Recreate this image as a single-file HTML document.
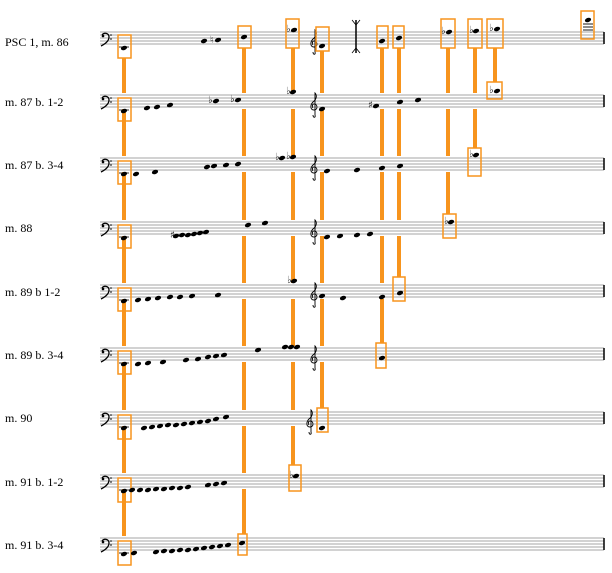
<!DOCTYPE html>
<html><head><meta charset="utf-8"><style>
html,body{margin:0;padding:0;background:#fff;}
svg{display:block;}
text{font-family:"Liberation Serif",serif;font-size:12px;fill:#000;}
.st line{stroke:#888;stroke-width:0.8}
.ol{stroke:#f7941d;stroke-width:4}
.bx{fill:none;stroke:#f7941d;stroke-width:1.5}
.n{fill:#000}
.acc{font-size:10px;font-family:"DejaVu Sans",sans-serif;fill:#222}
</style></head><body>
<svg width="612" height="573" viewBox="0 0 612 573" xmlns="http://www.w3.org/2000/svg">
<defs>
<g id="staff" class="st">
<rect x="98" y="-2" width="508" height="16" fill="#fff"/>
<line x1="100" y1="0" x2="604" y2="0"/><line x1="100" y1="3" x2="604" y2="3"/><line x1="100" y1="6" x2="604" y2="6"/><line x1="100" y1="9" x2="604" y2="9"/><line x1="100" y1="12" x2="604" y2="12"/>
<line x1="604" y1="0" x2="604" y2="12" style="stroke:#000;stroke-width:1.5"/>
<path d="M102 3 C104 0,109 1,109 5 C109 9,105 12,101 14" fill="none" stroke="#000" stroke-width="1.3"/>
<circle cx="103" cy="4" r="1.3" fill="#000"/><circle cx="111" cy="3" r="0.8" fill="#000"/><circle cx="111" cy="7" r="0.8" fill="#000"/>
</g>
<g id="treb"><path d="M3 17 C3 20,6 20,5 17 L5 -5 C7 -3,7 1,3 4 C0 7,0 12,4 12 C8 12,8 6,4 6 C2 6,2 9,3 10" fill="none" stroke="#000" stroke-width="0.9"/></g>
<ellipse id="nt" cx="0" cy="0" rx="3.2" ry="2.1" transform="rotate(-20)" class="n"/>
</defs>

<text x="5" y="46">PSC 1,  m. 86</text>
<text x="5" y="106">m. 87 b. 1-2</text>
<text x="5" y="169">m. 87 b. 3-4</text>
<text x="5" y="232">m. 88</text>
<text x="5" y="296">m. 89 b 1-2</text>
<text x="5" y="359">m. 89 b. 3-4</text>
<text x="5" y="422">m. 90</text>
<text x="5" y="486">m. 91 b. 1-2</text>
<text x="5" y="549">m. 91 b. 3-4</text>

<line class="ol" x1="124" y1="58" x2="124" y2="542"/>
<line class="ol" x1="244" y1="48" x2="244" y2="534"/>
<line class="ol" x1="293" y1="48" x2="293" y2="465"/>
<line class="ol" x1="322" y1="51" x2="322" y2="408"/>
<line class="ol" x1="382" y1="48" x2="382" y2="343"/>
<line class="ol" x1="399" y1="48" x2="399" y2="277"/>
<line class="ol" x1="448" y1="48" x2="448" y2="214"/>
<line class="ol" x1="475" y1="48" x2="475" y2="148"/>
<line class="ol" x1="495" y1="48" x2="495" y2="82"/>

<use href="#staff" y="32"/><use href="#staff" y="95"/><use href="#staff" y="158"/><use href="#staff" y="222"/><use href="#staff" y="285"/><use href="#staff" y="348"/><use href="#staff" y="412"/><use href="#staff" y="475"/><use href="#staff" y="538"/>

<use href="#treb" x="310" y="35"/><use href="#treb" x="310" y="98"/><use href="#treb" x="310" y="161"/><use href="#treb" x="310" y="225"/><use href="#treb" x="310" y="288"/><use href="#treb" x="310" y="351"/><use href="#treb" x="306" y="415"/>

<line x1="356" y1="20" x2="356" y2="53" stroke="#000" stroke-width="1.5"/>
<path d="M352 20 L356 25 L360 20 M352 53 L356 48 L360 53" fill="none" stroke="#000" stroke-width="0.8"/>

<g>
<rect class="bx" x="118" y="35" width="13" height="23"/>
<rect class="bx" x="118" y="98" width="13" height="23"/>
<rect class="bx" x="118" y="161" width="13" height="23"/>
<rect class="bx" x="118" y="225" width="13" height="23"/>
<rect class="bx" x="118" y="288" width="13" height="23"/>
<rect class="bx" x="118" y="351" width="13" height="23"/>
<rect class="bx" x="118" y="415" width="13" height="24"/>
<rect class="bx" x="118" y="478" width="13" height="24"/>
<rect class="bx" x="118" y="541" width="13" height="24"/>
</g>
<g>
<use href="#nt" x="124" y="48"/><use href="#nt" x="124" y="111"/><use href="#nt" x="124" y="174"/><use href="#nt" x="124" y="238"/><use href="#nt" x="124" y="301"/><use href="#nt" x="124" y="364"/><use href="#nt" x="124" y="428"/><use href="#nt" x="124" y="491"/><use href="#nt" x="124" y="554"/>
<g stroke="#000" stroke-width="0.8"><line x1="119" y1="47" x2="129" y2="47"/><line x1="119" y1="110" x2="129" y2="110"/><line x1="119" y1="173" x2="129" y2="173"/><line x1="119" y1="237" x2="129" y2="237"/><line x1="119" y1="300" x2="129" y2="300"/><line x1="119" y1="363" x2="129" y2="363"/><line x1="119" y1="427" x2="129" y2="427"/><line x1="119" y1="490" x2="129" y2="490"/><line x1="119" y1="553" x2="129" y2="553"/></g>
</g>

<rect class="bx" x="238" y="26" width="13" height="22"/>
<rect class="bx" x="286" y="19" width="13" height="29"/>
<rect class="bx" x="316" y="27" width="13" height="24"/>
<rect class="bx" x="377" y="26" width="11" height="22"/>
<rect class="bx" x="393" y="26" width="11" height="22"/>
<rect class="bx" x="441" y="19" width="14" height="29"/>
<rect class="bx" x="468" y="19" width="14" height="29"/>
<rect class="bx" x="487" y="19" width="16" height="29"/>
<rect class="bx" x="581" y="11" width="13" height="28"/>
<rect class="bx" x="487" y="82" width="15" height="17"/>
<rect class="bx" x="468" y="148" width="13" height="28"/>
<rect class="bx" x="443" y="214" width="13" height="24"/>
<rect class="bx" x="393" y="277" width="12" height="24"/>
<rect class="bx" x="376" y="343" width="10" height="25"/>
<rect class="bx" x="317" y="408" width="11" height="24"/>
<rect class="bx" x="289" y="465" width="12" height="26"/>
<rect class="bx" x="238" y="534" width="9" height="21"/>

<use href="#nt" x="204" y="41"/><use href="#nt" x="218" y="40"/><text class="acc" x="210" y="43">♮</text><use href="#nt" x="244" y="37"/>
<use href="#nt" x="294" y="30"/><text class="acc" x="286" y="32">♭</text><use href="#nt" x="322" y="46"/>
<use href="#nt" x="382" y="41"/><use href="#nt" x="399" y="38"/>
<use href="#nt" x="449" y="32"/><text class="acc" x="441" y="34">♭</text>
<use href="#nt" x="476" y="31"/><text class="acc" x="469" y="33">♭</text>
<use href="#nt" x="497" y="29"/><text class="acc" x="489" y="31">♭</text>
<use href="#nt" x="588" y="20"/><g stroke="#000" stroke-width="0.9"><line x1="583" y1="24" x2="593" y2="24"/><line x1="583" y1="27" x2="593" y2="27"/><line x1="583" y1="30" x2="593" y2="30"/></g>

<use href="#nt" x="147" y="108"/><use href="#nt" x="157" y="107"/><use href="#nt" x="170" y="105"/>
<use href="#nt" x="216" y="101"/><text class="acc" x="208" y="103">♭</text><use href="#nt" x="238" y="100"/><text class="acc" x="230" y="102">♭</text>
<use href="#nt" x="293" y="92"/><text class="acc" x="286" y="94">♭</text><use href="#nt" x="322" y="109"/>
<use href="#nt" x="376" y="106"/><text class="acc" x="368" y="108">♯</text><use href="#nt" x="400" y="102"/><use href="#nt" x="418" y="100"/>
<use href="#nt" x="497" y="91"/><text class="acc" x="489" y="93">♭</text>

<use href="#nt" x="136" y="174"/><use href="#nt" x="155" y="172"/>
<use href="#nt" x="207" y="167"/><use href="#nt" x="214" y="166"/><use href="#nt" x="226" y="165"/><use href="#nt" x="238" y="164"/>
<use href="#nt" x="282" y="158"/><text class="acc" x="275" y="160">♭</text><use href="#nt" x="293" y="157"/><text class="acc" x="286" y="159">♭</text>
<use href="#nt" x="327" y="171"/><use href="#nt" x="357" y="170"/><use href="#nt" x="382" y="168"/><use href="#nt" x="400" y="166"/>
<use href="#nt" x="476" y="155"/><text class="acc" x="469" y="157">♭</text>

<use href="#nt" x="176" y="236"/><use href="#nt" x="182" y="235"/><use href="#nt" x="188" y="235"/><use href="#nt" x="194" y="234"/><use href="#nt" x="200" y="233"/><use href="#nt" x="206" y="232"/><text class="acc" x="170" y="238">♯</text>
<use href="#nt" x="248" y="225"/><use href="#nt" x="265" y="223"/>
<use href="#nt" x="327" y="237"/><use href="#nt" x="340" y="236"/><use href="#nt" x="357" y="235"/><use href="#nt" x="370" y="234"/>
<use href="#nt" x="451" y="222"/><text class="acc" x="444" y="224">♭</text>

<use href="#nt" x="138" y="300"/><use href="#nt" x="148" y="299"/><use href="#nt" x="158" y="298"/><use href="#nt" x="170" y="297"/><use href="#nt" x="180" y="297"/><use href="#nt" x="192" y="296"/><use href="#nt" x="218" y="295"/>
<use href="#nt" x="294" y="281"/><text class="acc" x="287" y="283">♭</text>
<use href="#nt" x="322" y="296"/><use href="#nt" x="343" y="298"/><use href="#nt" x="382" y="297"/><use href="#nt" x="400" y="293"/>

<use href="#nt" x="138" y="364"/><use href="#nt" x="148" y="363"/><use href="#nt" x="163" y="362"/><use href="#nt" x="186" y="360"/><use href="#nt" x="198" y="359"/><use href="#nt" x="208" y="357"/><use href="#nt" x="216" y="356"/><use href="#nt" x="224" y="355"/>
<use href="#nt" x="258" y="350"/><use href="#nt" x="285" y="347"/><use href="#nt" x="291" y="347"/><use href="#nt" x="297" y="347"/>
<use href="#nt" x="382" y="358"/>

<use href="#nt" x="144" y="428"/><use href="#nt" x="152" y="427"/><use href="#nt" x="160" y="426"/><use href="#nt" x="168" y="425"/><use href="#nt" x="176" y="425"/><use href="#nt" x="184" y="424"/><use href="#nt" x="192" y="423"/><use href="#nt" x="200" y="422"/><use href="#nt" x="208" y="421"/><use href="#nt" x="216" y="419"/><use href="#nt" x="226" y="417"/>
<use href="#nt" x="322" y="428"/>

<use href="#nt" x="132" y="490"/><use href="#nt" x="140" y="490"/><use href="#nt" x="148" y="490"/><use href="#nt" x="156" y="489"/><use href="#nt" x="164" y="489"/><use href="#nt" x="172" y="488"/><use href="#nt" x="180" y="488"/><use href="#nt" x="188" y="487"/><use href="#nt" x="208" y="485"/><use href="#nt" x="216" y="484"/><use href="#nt" x="224" y="483"/>
<use href="#nt" x="296" y="476"/><text class="acc" x="289" y="478">♭</text>

<use href="#nt" x="134" y="553"/><use href="#nt" x="156" y="552"/><use href="#nt" x="164" y="551"/><use href="#nt" x="172" y="551"/><use href="#nt" x="180" y="550"/><use href="#nt" x="188" y="550"/><use href="#nt" x="196" y="549"/><use href="#nt" x="204" y="548"/><use href="#nt" x="212" y="547"/><use href="#nt" x="220" y="546"/><use href="#nt" x="228" y="545"/>
<use href="#nt" x="242" y="543"/>
</svg>
</body></html>
